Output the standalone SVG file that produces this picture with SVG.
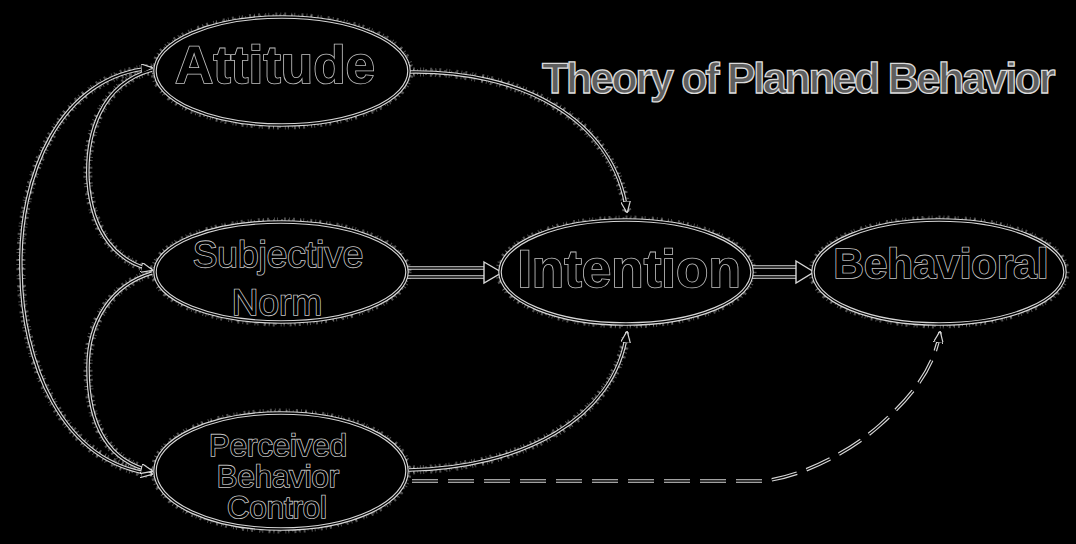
<svg xmlns="http://www.w3.org/2000/svg" xmlns:xlink="http://www.w3.org/1999/xlink" width="1076" height="544" viewBox="0 0 1076 544">
  <style>
    .fuzz { fill: none; stroke: #fff; stroke-width: 9; stroke-dasharray: 1 3 2 5 1 2 1 6 2 3; opacity: 0.3; }
    .fuzz2 { fill: none; stroke: #fff; stroke-width: 6; stroke-dasharray: 2 5 1 3 1 7; stroke-dashoffset: 3; opacity: 0.28; }
    .halo { fill: none; stroke: #d6d6d6; stroke-width: 3.6; }
    .core { fill: none; stroke: #000; stroke-width: 1.3; }
    .node { fill: #000; }
    .lbl { font-family: "Liberation Sans", Arial, sans-serif; fill: #000; stroke: #c4c4c4; stroke-width: 1.6; paint-order: stroke; text-anchor: middle; text-rendering: geometricPrecision; }
    .big { font-size: 53px; font-weight: bold; }
    .mid { font-size: 42px; font-weight: bold; }
    .sub { font-size: 37px; }
    .small { font-size: 31px; }
    .dash { stroke-dasharray: 26 10; }
    .title { font-family: "Liberation Sans", Arial, sans-serif; font-size: 43px; font-weight: bold; letter-spacing: -2.3px; text-rendering: geometricPrecision; }
  </style>
  <defs>
    <marker id="arrow" viewBox="0 0 12 10" refX="11" refY="5" markerWidth="12" markerHeight="10" markerUnits="userSpaceOnUse" orient="auto-start-reverse">
      <path d="M0,0 L12,5 L0,10 z" fill="#000" stroke="#d6d6d6" stroke-width="1.2"/>
    </marker>
    <!-- connector geometry -->
    <path id="p-att-int" d="M409,72 C520,70 614,118 627,212"/>
    <path id="p-pbc-int" d="M409,470 C520,468 615,420 627,332"/>
    <path id="p-att-pbc" d="M152,68 C60,75 18,175 21,272 C22,360 60,462 152,474"/>
    <path id="p-att-sn" d="M152,70 C100,84 86,135 88,180 C92,235 118,262 152,270"/>
    <path id="p-sn-pbc" d="M152,273 C112,285 88,320 88,368 C88,428 110,462 152,471"/>
    <path id="p-pbc-beh" d="M412,481 L762,481 C800,478 850,452 880,425 C910,398 934,370 940,332"/>
    <path id="p-sn-int-a" d="M407,268 L486,268"/>
    <path id="p-sn-int-b" d="M407,277 L486,277"/>
    <path id="p-int-beh-a" d="M752,267 L798,267"/>
    <path id="p-int-beh-b" d="M752,277 L798,277"/>
    <g id="edges">
      <use xlink:href="#p-att-int"/>
      <use xlink:href="#p-pbc-int"/>
      <use xlink:href="#p-att-pbc"/>
      <use xlink:href="#p-att-sn"/>
      <use xlink:href="#p-sn-pbc"/>
      <ellipse cx="282" cy="71" rx="127" ry="54"/>
      <ellipse cx="281" cy="272" rx="126" ry="50"/>
      <ellipse cx="626" cy="272" rx="126" ry="52"/>
      <ellipse cx="939" cy="272" rx="126" ry="52"/>
      <ellipse cx="281" cy="471" rx="126" ry="58"/>
    </g>
  </defs>

  <rect width="1076" height="544" fill="#000"/>

  <!-- grainy fringe under all strokes -->
  <g id="grain-layer">
    <use xlink:href="#edges" class="fuzz"/>
    <use xlink:href="#edges" class="fuzz2"/>
  </g>

  <!-- connectors -->
  <g id="connectors">
    <g class="halo">
      <use xlink:href="#p-att-int"/>
      <use xlink:href="#p-pbc-int"/>
      <use xlink:href="#p-att-pbc"/>
      <use xlink:href="#p-att-sn"/>
      <use xlink:href="#p-sn-pbc"/>
      <use xlink:href="#p-pbc-beh" class="dash"/>
      <use xlink:href="#p-sn-int-a"/>
      <use xlink:href="#p-sn-int-b"/>
      <use xlink:href="#p-int-beh-a"/>
      <use xlink:href="#p-int-beh-b"/>
    </g>
    <g class="core">
      <use xlink:href="#p-att-int" marker-end="url(#arrow)"/>
      <use xlink:href="#p-pbc-int" marker-end="url(#arrow)"/>
      <use xlink:href="#p-att-pbc" marker-start="url(#arrow)" marker-end="url(#arrow)"/>
      <use xlink:href="#p-att-sn" marker-end="url(#arrow)"/>
      <use xlink:href="#p-sn-pbc" marker-end="url(#arrow)"/>
      <use xlink:href="#p-pbc-beh" class="dash" marker-end="url(#arrow)"/>
      <use xlink:href="#p-sn-int-a"/>
      <use xlink:href="#p-sn-int-b"/>
      <use xlink:href="#p-int-beh-a"/>
      <use xlink:href="#p-int-beh-b"/>
    </g>
    <!-- double-line arrowheads -->
    <path d="M484,262 L502,272.5 L484,283 z" fill="#000" stroke="#d6d6d6" stroke-width="1.4"/>
    <path d="M796,261 L814,272 L796,283 z" fill="#000" stroke="#d6d6d6" stroke-width="1.4"/>
  </g>

  <g id="attitude">
    <ellipse class="node" cx="282" cy="71" rx="127" ry="54"/>
    <ellipse class="halo" cx="282" cy="71" rx="127" ry="54"/>
    <ellipse class="core" cx="282" cy="71" rx="127" ry="54"/>
    <text class="lbl big" x="275" y="83">Attitude</text>
  </g>

  <g id="subjective-norm">
    <ellipse class="node" cx="281" cy="272" rx="126" ry="50"/>
    <ellipse class="halo" cx="281" cy="272" rx="126" ry="50"/>
    <ellipse class="core" cx="281" cy="272" rx="126" ry="50"/>
    <text class="lbl sub" x="278" y="267">Subjective</text>
    <text class="lbl sub" x="277" y="315">Norm</text>
  </g>

  <g id="intention">
    <ellipse class="node" cx="626" cy="272" rx="126" ry="52"/>
    <ellipse class="halo" cx="626" cy="272" rx="126" ry="52"/>
    <ellipse class="core" cx="626" cy="272" rx="126" ry="52"/>
    <text class="lbl big" x="629" y="287">Intention</text>
  </g>

  <g id="behavioral">
    <ellipse class="node" cx="939" cy="272" rx="126" ry="52"/>
    <ellipse class="halo" cx="939" cy="272" rx="126" ry="52"/>
    <ellipse class="core" cx="939" cy="272" rx="126" ry="52"/>
    <text class="lbl mid" x="941" y="278">Behavioral</text>
  </g>

  <g id="perceived-behavior-control">
    <ellipse class="node" cx="281" cy="471" rx="126" ry="58"/>
    <ellipse class="halo" cx="281" cy="471" rx="126" ry="58"/>
    <ellipse class="core" cx="281" cy="471" rx="126" ry="58"/>
    <text class="lbl small" x="278" y="456">Perceived</text>
    <text class="lbl small" x="278" y="487">Behavior</text>
    <text class="lbl small" x="277" y="518">Control</text>
  </g>

  <g id="title">
    <text class="title" x="542" y="93" fill="#5e5e5e" stroke="#dcdcdc" stroke-width="1.3">Theory of Planned Behavior</text>
  </g>
</svg>
